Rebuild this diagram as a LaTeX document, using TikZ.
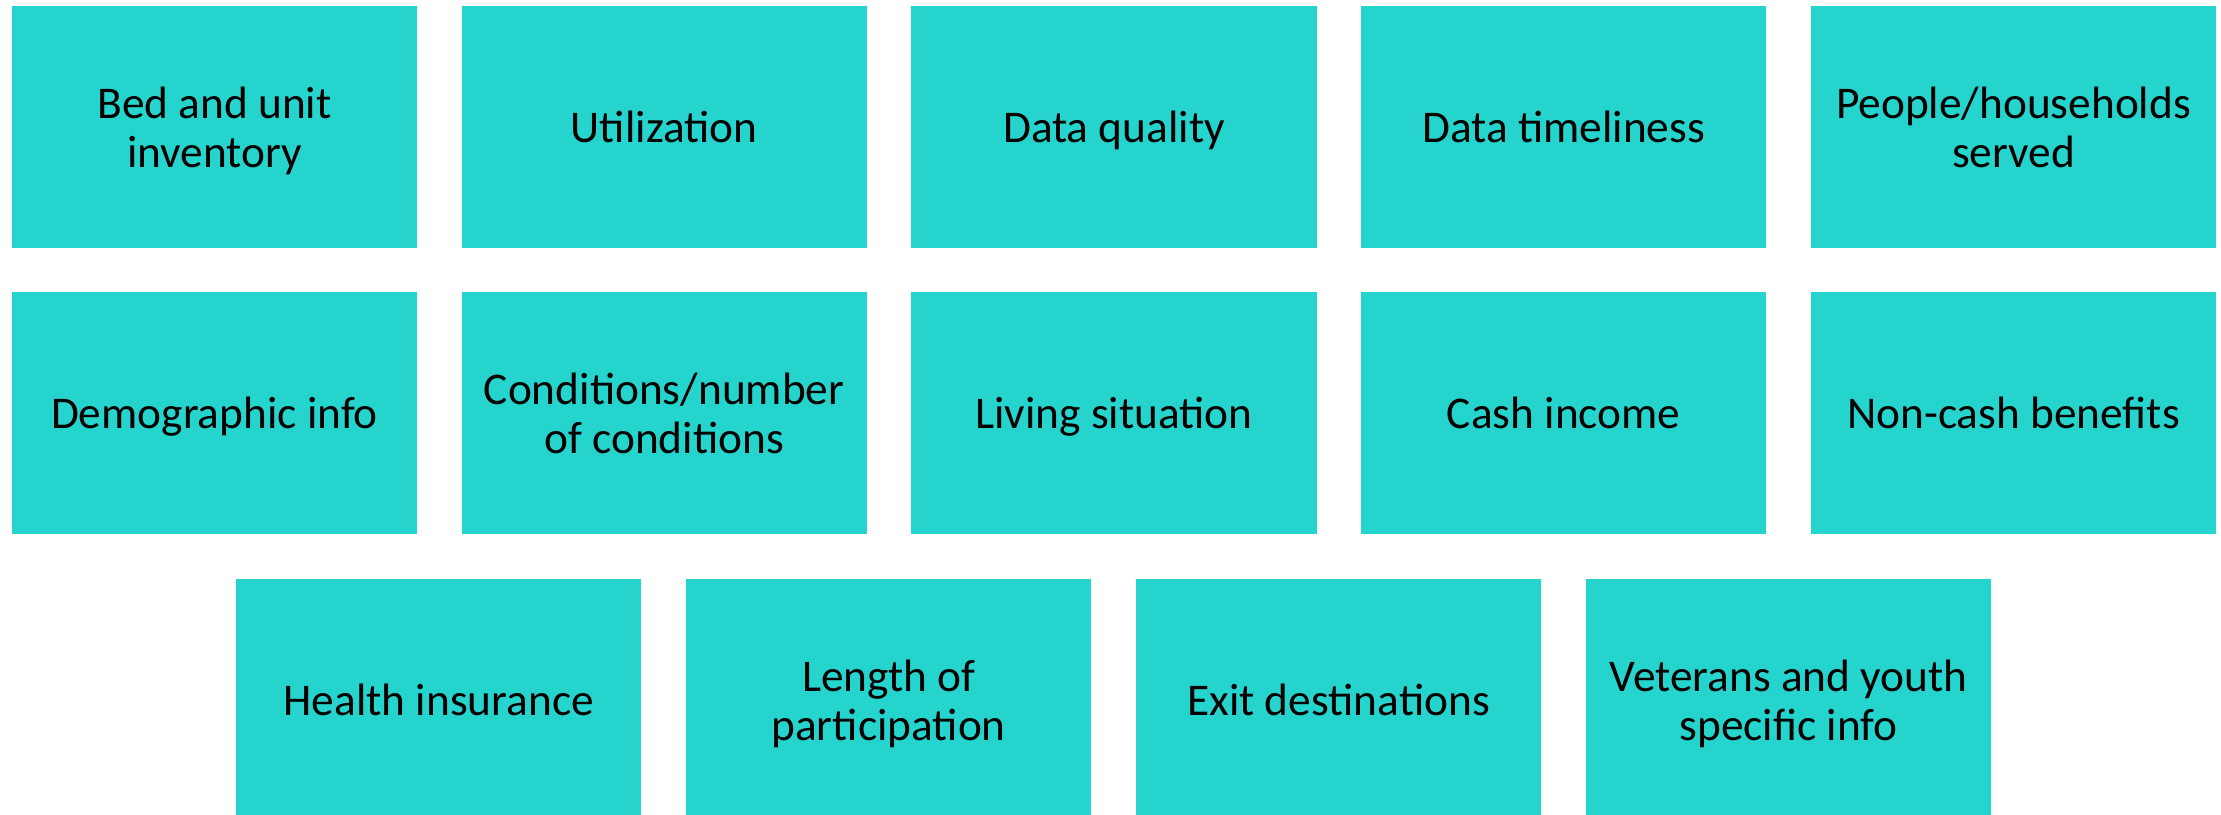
\documentclass[tikz,border=0pt]{standalone}
\usepackage{fontspec}
\setmainfont{Carlito}
\usetikzlibrary{positioning}
\definecolor{tealbox}{RGB}{37,212,204}

\begin{document}
\begin{tikzpicture}[x=0.01cm,y=-0.01cm]
  \useasboundingbox (0,0) rectangle (2221,814);
  \tikzstyle{TopicStyle}=[fill=tealbox,draw=none,inner sep=0pt,
    minimum width=4.05cm,minimum height=2.42cm,align=center,text depth=0pt,
    font=\fontsize{12.9pt}{13.9pt}\selectfont]

  \node[TopicStyle] (bed)     at (214.5,127) {Bed and unit\\inventory};
  \node[TopicStyle] (util)    at (664.2,127) {Utilization};
  \node[TopicStyle] (quality) at (1114,127)  {Data quality};
  \node[TopicStyle] (timely)  at (1563.7,127) {Data timeliness};
  \node[TopicStyle] (served)  at (2013.5,127) {People/households\\served};

  \node[TopicStyle] (demo)    at (214.5,413) {Demographic info};
  \node[TopicStyle] (cond)    at (664.2,413) {Conditions/number\\of conditions};
  \node[TopicStyle] (living)  at (1114,413)  {Living situation};
  \node[TopicStyle] (cash)    at (1563.7,413) {Cash income};
  \node[TopicStyle] (noncash) at (2013.5,413) {Non-cash benefits};

  \node[TopicStyle] (health)  at (438.8,700)  {Health insurance};
  \node[TopicStyle] (length)  at (888.6,700)  {Length of\\participation};
  \node[TopicStyle] (exit)    at (1338.6,700) {Exit destinations};
  \node[TopicStyle] (vets)    at (1788.6,700) {Veterans and youth\\specific info};
\end{tikzpicture}
\end{document}
